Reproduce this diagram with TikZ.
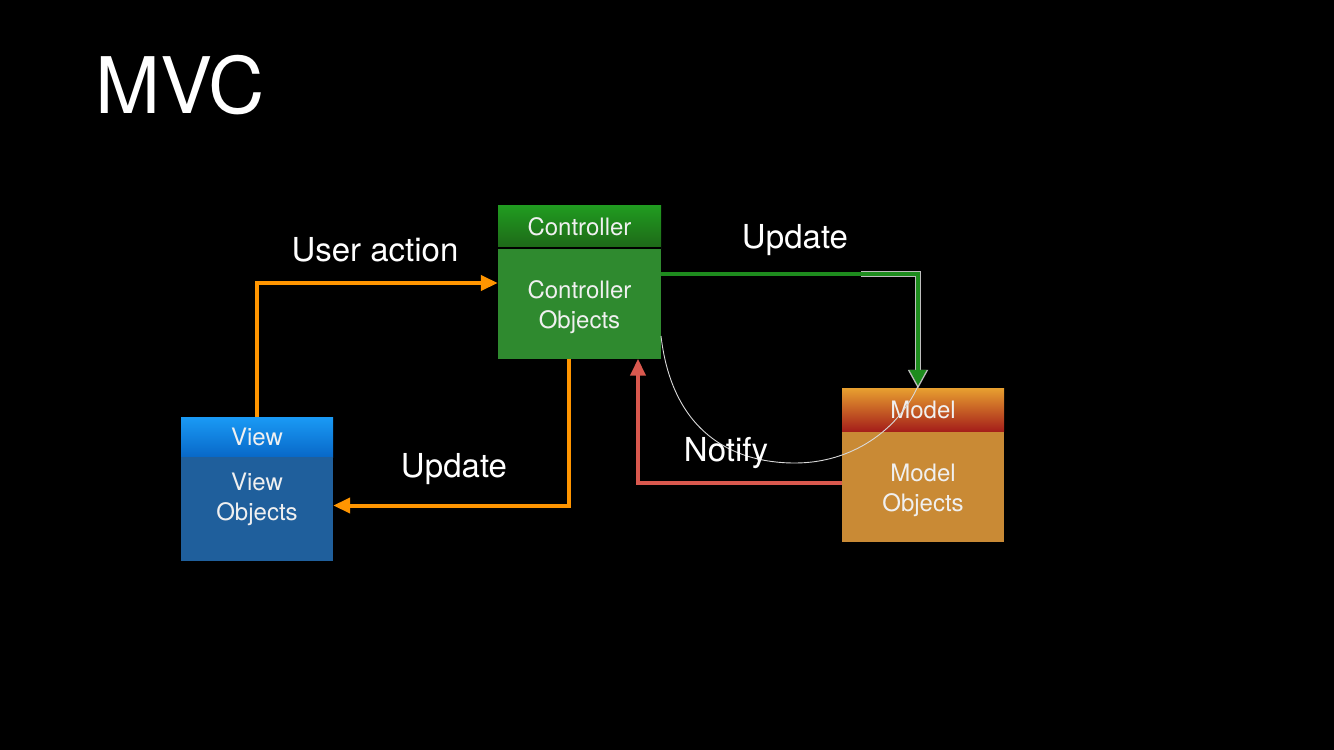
\documentclass[tikz,border=0pt]{standalone}
\usepackage{fontspec}
\setmainfont{TeX Gyre Heros}
\usetikzlibrary{arrows.meta}
\definecolor{arrorange}{RGB}{255,149,0}
\definecolor{arrred}{RGB}{217,88,78}
\definecolor{arrgreen}{RGB}{30,140,30}
\definecolor{ctrltop}{RGB}{32,156,32}
\definecolor{ctrlbot}{RGB}{30,104,24}
\definecolor{ctrlbody}{RGB}{47,138,47}
\definecolor{viewtop}{RGB}{26,154,245}
\definecolor{viewbot}{RGB}{8,104,200}
\definecolor{viewbody}{RGB}{31,95,156}
\definecolor{modeltop}{RGB}{232,160,48}
\definecolor{modelbot}{RGB}{165,31,26}
\definecolor{modelbody}{RGB}{201,138,53}
\definecolor{txt}{RGB}{240,240,240}
\definecolor{outl}{RGB}{190,190,190}
\tikzset{
  boxtext/.style={text=txt,font=\fontsize{24}{30}\selectfont,align=center,inner sep=0pt},
  headbox/.style={boxtext,minimum height=43pt},
  bodybox/.style={boxtext},
  lbl/.style={text=white,font=\fontsize{33}{38}\selectfont,inner sep=0pt},
  conn/.style={line width=4pt,-{Triangle[length=17pt,width=15pt]}},
}
\begin{document}
\begin{tikzpicture}[x=1pt,y=-1pt]
\fill[black] (0,0) rectangle (1334,750);
\useasboundingbox (0,0) rectangle (1334,750);
% title
\node[text=white,font=\fontsize{78}{82}\selectfont,anchor=base west,inner sep=0pt] (title) at (95,113) {MVC};
% controller
\node[headbox,minimum width=163pt,minimum height=43pt,top color=ctrltop,bottom color=ctrlbot] (ctrlhead) at (579.5,226.5) {Controller};
\node[bodybox,fill=ctrlbody,minimum width=163pt,minimum height=110pt] (ctrlbody) at (579.5,303.5) {};
\node[boxtext] (ctrltext) at (579.5,307) {Controller\\Objects};
\draw[black,line width=1.5pt] (ctrlhead.south west) -- (ctrlhead.south east);
% view
\node[headbox,minimum width=152pt,minimum height=40pt,top color=viewtop,bottom color=viewbot] (viewhead) at (257,437) {View};
\node[bodybox,fill=viewbody,minimum width=152pt,minimum height=104pt] (viewbody) at (257,509) {};
\node[boxtext] (viewtext) at (257,499) {View\\Objects};
% model
\node[headbox,minimum width=162pt,minimum height=43pt,top color=modeltop,bottom color=modelbot] (modelhead) at (923,409.5) {Model};
\node[bodybox,fill=modelbody,minimum width=162pt,minimum height=110pt] (modelbody) at (923,486.5) {};
\node[boxtext] (modeltext) at (923,490) {Model\\Objects};
% connectors
\draw[conn,arrorange] (viewhead.north) |- ([yshift=20.5pt]ctrlbody.west);
\draw[conn,arrorange] ([xshift=-10.5pt]ctrlbody.south) |- ([yshift=3.5pt]viewbody.east);
\draw[line width=6pt,outl,line join=miter,-{Triangle[length=19pt,width=19pt]}] ([xshift=200pt,yshift=29.5pt]ctrlbody.east) -| ([xshift=-5pt,yshift=-1pt]modelhead.north);
\draw[conn,arrgreen,-{Triangle[length=16pt,width=16pt]}] ([yshift=29.5pt]ctrlbody.east) -| ([xshift=-5pt,yshift=2pt]modelhead.north);
\draw[conn,arrred] ([yshift=3.5pt]modelbody.west) -| ([xshift=58.5pt]ctrlbody.south);
% thin arc
\coordinate (arcA) at (661,336);
\coordinate (arcM) at (795,463);
\coordinate (arcB) at (918,386);
\draw[white!85!black,line width=0.9pt] (arcA) .. controls (672,430) and (730,463) .. (arcM) .. controls (852,463) and (898,430) .. (arcB);
% labels
\node[lbl] (lua) at (375,250) {User action};
\node[lbl] (lup1) at (454,469) {Update};
\node[lbl] (lup2) at (795,240) {Update};
\node[lbl] (lnot) at (726,453) {Notify};
\end{tikzpicture}
\end{document}
